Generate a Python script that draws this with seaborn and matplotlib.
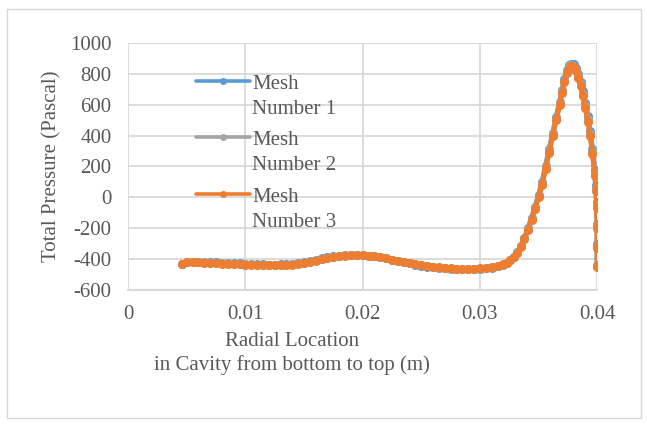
import matplotlib
matplotlib.use("Agg")
import matplotlib.pyplot as plt
from matplotlib.patches import Rectangle
from matplotlib.legend_handler import HandlerLine2D
import seaborn as sns
import pandas as pd

# Radial positions of the sampled cells (m), shared by all three meshes
radial_location = [
    0.0046, 0.0050, 0.0055, 0.0060, 0.0065, 0.0070, 0.0075, 0.0080, 0.0085, 0.0090,
    0.0095, 0.0100, 0.0105, 0.0110, 0.0115, 0.0120, 0.0125, 0.0130, 0.0135, 0.0140,
    0.0145, 0.0150, 0.0155, 0.0160, 0.0165, 0.0170, 0.0175, 0.0180, 0.0185, 0.0190,
    0.0195, 0.0200, 0.0205, 0.0210, 0.0215, 0.0220, 0.0225, 0.0230, 0.0235, 0.0240,
    0.0245, 0.0250, 0.0255, 0.0260, 0.0265, 0.0270, 0.0275, 0.0280, 0.0285, 0.0290,
    0.0295, 0.0300, 0.0305, 0.0310, 0.0315, 0.0320, 0.0323, 0.0326, 0.0329, 0.0332,
    0.0335, 0.0338, 0.0341, 0.0344, 0.0347, 0.0350, 0.0353, 0.0356, 0.0359, 0.0362,
    0.0365, 0.0368, 0.0370, 0.0372, 0.0374, 0.0376, 0.0378, 0.0380, 0.0382, 0.0384,
    0.0386, 0.0388, 0.0390, 0.0392, 0.0394, 0.0396, 0.0398, 0.0399, 0.03995, 0.0400,
    0.0400, 0.0400,
]

# Total pressure (Pa) for each mesh
pressure_mesh_1 = [
    -430, -417, -417, -418, -419, -420, -421, -423, -424, -426,
    -428, -430, -431, -433, -434, -435, -435, -434, -432, -429,
    -425, -419, -412, -404, -396, -389, -383, -378, -375, -373,
    -373, -374, -377, -382, -388, -395, -403, -412, -420, -428,
    -435, -442, -448, -453, -457, -460, -463, -465, -466, -466,
    -465, -463, -460, -455, -447, -436, -424, -407, -385, -355,
    -313, -262, -200, -133, -60, 15, 100, 205, 310, 415,
    520, 620, 695, 765, 825, 858, 866, 860, 835, 800,
    748, 685, 610, 525, 430, 315, 175, 80, -30, -170,
    -300, -440,
]

pressure_mesh_2 = [
    -430, -418, -418, -420, -421, -423, -425, -426, -428, -429,
    -431, -433, -434, -436, -437, -438, -438, -437, -435, -432,
    -428, -422, -415, -407, -399, -391, -385, -380, -376, -374,
    -373, -374, -377, -382, -388, -395, -403, -412, -420, -427,
    -434, -441, -447, -451, -455, -458, -461, -463, -464, -464,
    -463, -461, -458, -453, -446, -435, -423, -408, -387, -358,
    -317, -266, -205, -139, -68, 8, 90, 195, 300, 408,
    510, 610, 685, 755, 815, 849, 859, 851, 825, 788,
    734, 670, 592, 507, 412, 298, 158, 60, -50, -185,
    -315, -445,
]

pressure_mesh_3 = [
    -430, -418, -419, -421, -423, -425, -427, -429, -431, -432,
    -434, -436, -437, -439, -440, -441, -441, -440, -438, -435,
    -431, -425, -418, -410, -402, -394, -387, -381, -377, -375,
    -374, -375, -378, -383, -389, -396, -404, -412, -420, -427,
    -434, -440, -446, -450, -454, -457, -459, -461, -462, -462,
    -461, -459, -456, -451, -444, -434, -423, -408, -388, -360,
    -320, -270, -210, -145, -75, 0, 80, 185, 290, 400,
    500, 600, 675, 745, 805, 840, 852, 842, 815, 775,
    720, 655, 575, 490, 395, 280, 140, 40, -70, -200,
    -330, -450,
]

mesh_labels = ["Mesh\nNumber 1", "Mesh\nNumber 2", "Mesh\nNumber 3"]
mesh_colors = ["#5B9BD5", "#A5A5A5", "#ED7D31"]

x_ticks = [0, 0.01, 0.02, 0.03, 0.04]
x_tick_labels = ["0", "0.01", "0.02", "0.03", "0.04"]
y_ticks = [-600, -400, -200, 0, 200, 400, 600, 800, 1000]

frames = []
for label, values in zip(mesh_labels, [pressure_mesh_1, pressure_mesh_2, pressure_mesh_3]):
    frames.append(pd.DataFrame({"r": radial_location, "p": values, "mesh": label}))
df = pd.concat(frames, ignore_index=True)

sns.set_theme(style="whitegrid")
plt.rcParams["font.family"] = ["Liberation Serif", "DejaVu Serif"]
plt.rcParams["axes.unicode_minus"] = False
text_color = "#595959"
grid_color = "#D9D9D9"

fig = plt.figure(figsize=(6.47, 4.24), dpi=100)
ax = fig.add_axes([0.198, 0.316, 0.725, 0.583])

sns.lineplot(
    data=df, x="r", y="p", hue="mesh", hue_order=mesh_labels,
    palette=mesh_colors, estimator=None, sort=False, units=None,
    marker="o", markersize=6.5, markeredgewidth=0, linewidth=3.6,
    ax=ax,
)

ax.set_xlim(0, 0.04)
ax.set_ylim(-600, 1000)
ax.set_xticks(x_ticks)
ax.set_xticklabels(x_tick_labels)
ax.set_yticks(y_ticks)
ax.grid(True, color=grid_color, linewidth=1.3)
for side, spine in ax.spines.items():
    spine.set_visible(side == "bottom")
    spine.set_color(grid_color)
    spine.set_linewidth(1.5)
ax.tick_params(axis="both", length=0, labelsize=15, labelcolor=text_color)
ax.tick_params(axis="x", pad=11)
ax.tick_params(axis="y", pad=12)

ax.set_xlabel("Radial Location\nin Cavity from bottom to top (m)",
              fontsize=15, color=text_color, linespacing=1.25)
ax.xaxis.set_label_coords(0.35, -0.17)
ax.set_ylabel("Total Pressure (Pascal)", fontsize=15, color=text_color)
ax.yaxis.set_label_coords(-0.143, 0.5)


class TopLineHandler(HandlerLine2D):
    """Line handle aligned with the first line of a two-line label."""

    def create_artists(self, legend, orig_handle, xdescent, ydescent,
                       width, height, fontsize, trans):
        artists = super().create_artists(legend, orig_handle, xdescent, ydescent,
                                         width, height, fontsize, trans)
        for a in artists:
            a.set_ydata([y + fontsize * 0.75 for y in a.get_ydata()])
        return artists


handles, labels = ax.get_legend_handles_labels()
ax.get_legend().remove()
for h in handles:
    h.set_linewidth(2.6)
    h.set_markersize(5)
leg = ax.legend(
    handles, labels, loc="upper left", bbox_to_anchor=(0.105, 0.946),
    frameon=False, fontsize=15, labelcolor=text_color,
    handlelength=2.6, handletextpad=0.1, labelspacing=0.62,
    handler_map={h: TopLineHandler(numpoints=1) for h in handles},
)
for t in leg.get_texts():
    t.set_linespacing(1.4)

fig.patches.append(Rectangle((7 / 647, 6 / 424), 634 / 647, 409 / 424,
                             transform=fig.transFigure, fill=False,
                             edgecolor=grid_color, linewidth=1.0))

fig.savefig("out.png", dpi=100)
